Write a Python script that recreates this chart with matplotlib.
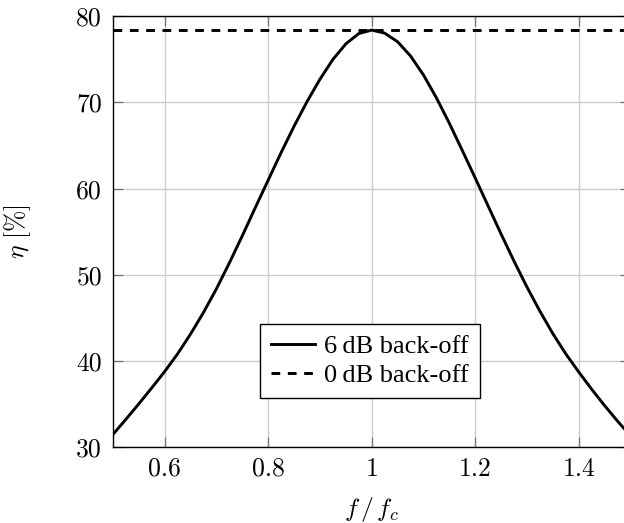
import matplotlib
matplotlib.use("Agg")
import matplotlib.pyplot as plt

# ---- data ----
freq = [0.500, 0.525, 0.550, 0.575, 0.600, 0.625, 0.650, 0.675, 0.700, 0.725,
        0.750, 0.775, 0.800, 0.825, 0.850, 0.875, 0.900, 0.925, 0.950, 0.975,
        1.000, 1.025, 1.050, 1.075, 1.100, 1.125, 1.150, 1.175, 1.200, 1.225,
        1.250, 1.275, 1.300, 1.325, 1.350, 1.375, 1.400, 1.425, 1.450, 1.475,
        1.500]
eff_6db = [31.5, 33.25, 35.05, 36.9, 38.8, 40.85, 43.15, 45.65, 48.4, 51.4,
           54.55, 57.8, 61.0, 64.2, 67.25, 70.1, 72.7, 75.0, 76.8, 78.0,
           78.4, 78.05, 77.05, 75.4, 73.2, 70.55, 67.6, 64.45, 61.25, 58.0,
           54.75, 51.6, 48.6, 45.8, 43.2, 40.85, 38.75, 36.75, 34.85, 33.05,
           31.35]
freq_0db = [0.5, 1.5]
eff_0db = [78.4, 78.4]

xticks = [0.6, 0.8, 1.0, 1.2, 1.4]
xticklabels = ["0.6", "0.8", "1", "1.2", "1.4"]
yticks = [30, 40, 50, 60, 70, 80]
yticklabels = ["30", "40", "50", "60", "70", "80"]
labels = ["6\u2009dB back-off", "0\u2009dB back-off"]

plt.rcParams["font.family"] = "serif"
plt.rcParams["font.serif"] = ["cmr10", "DejaVu Serif"]
plt.rcParams["mathtext.fontset"] = "cm"
plt.rcParams["axes.unicode_minus"] = False

W, H = 624, 523
fig = plt.figure(figsize=(W / 100, H / 100), dpi=100)
left, right, top, bottom = 113, 630.4, 16.3, 447.3
ax = fig.add_axes([left / W, (H - bottom) / H, (right - left) / W, (bottom - top) / H])

ax.plot(freq, eff_6db, color="black", lw=2.1, label=labels[0], zorder=3)
ax.plot(freq_0db, eff_0db, color="black", lw=2.1, dashes=(3, 2.6),
        label=labels[1], zorder=3)

ax.set_xlim(0.5, 1.5)
ax.set_ylim(30, 80)
ax.set_xticks(xticks)
ax.set_xticklabels(xticklabels)
ax.set_yticks(yticks)
ax.set_yticklabels(yticklabels)
ax.grid(True, color="#cccccc", lw=1.0, zorder=0)
ax.set_axisbelow(True)
ax.tick_params(direction="in", length=7.5, width=0.9, color="0.45",
               labelsize=18.5, top=True, right=True, pad=8)
ax.tick_params(axis="x", pad=7)
for sp in ax.spines.values():
    sp.set_linewidth(1.0)
    sp.set_color("black")

leg = ax.legend(loc="center", bbox_to_anchor=(0.497, 0.2),
                prop={"family": "Liberation Serif", "size": 19},
                frameon=True, fancybox=False, edgecolor="black",
                framealpha=1, handlelength=1.65, handletextpad=0.35,
                borderpad=0.42, labelspacing=0.2, borderaxespad=0)
leg.get_frame().set_linewidth(1.0)

fig.text(18 / W, 1 - 232 / H, r"$\eta\ [\%]$", rotation=90, ha="center",
         va="center", fontsize=18.5)
fig.text(372 / W, 1 - 509 / H, r"$f\,/\,f_c$", ha="center", va="center",
         fontsize=18.5)

fig.savefig("out.png", dpi=100)
